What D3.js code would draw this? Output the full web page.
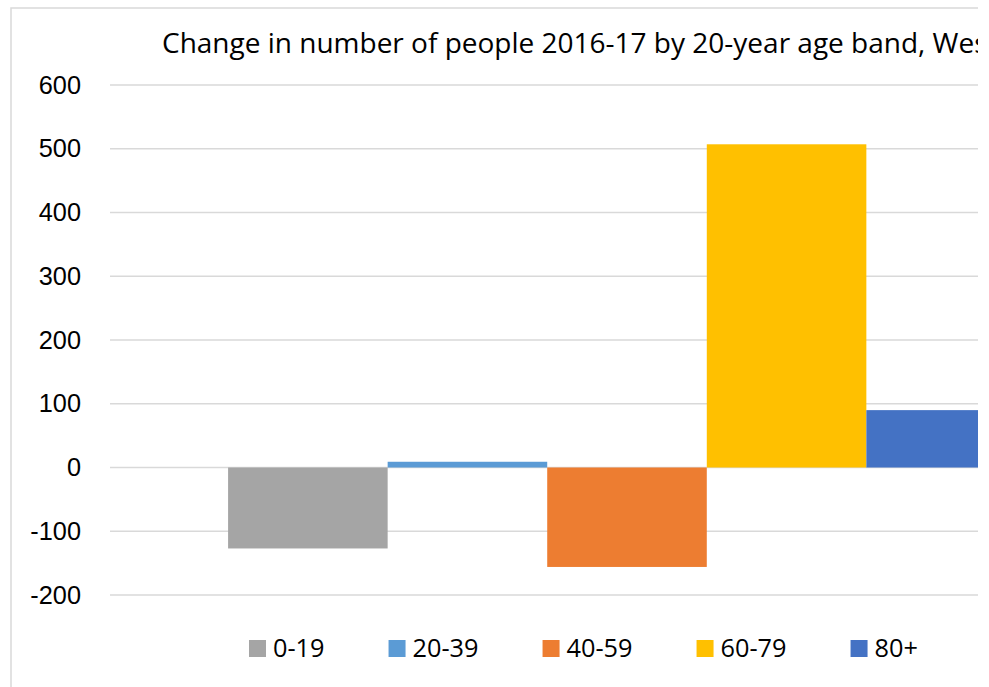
<!DOCTYPE html>
<html>
<head>
<meta charset="utf-8">
<script src="https://cdn.jsdelivr.net/npm/d3@7"></script>
<style>
  body { margin: 0; background: #fff; }
  svg { display: block; font-family: "Open Sans", sans-serif; }
</style>
</head>
<body>
<div id="chart"></div>
<script>
// data
const title = "Change in number of people 2016-17 by 20-year age band, West";
const categories = [""];
const series = ["0-19", "20-39", "40-59", "60-79", "80+"];
const values = [-127, 9, -156, 507, 90];
const colors = ["#a5a5a5", "#5b9bd5", "#ed7d31", "#ffc000", "#4472c4"];
const yTicks = [-200, -100, 0, 100, 200, 300, 400, 500, 600];

const w = 989, h = 687;
const clipRight = 978;
const labelSize = 25.3;
const margin = {top: 85, right: -155, bottom: 92, left: 110};
const width = w - margin.left - margin.right;
const height = h - margin.top - margin.bottom;

const svg = d3.select("#chart").append("svg")
  .attr("width", w)
  .attr("height", h);

svg.append("clipPath").attr("id", "crop")
  .append("rect").attr("x", 0).attr("y", 0).attr("width", clipRight).attr("height", h);

const root = svg.append("g").attr("clip-path", "url(#crop)");

// chart frame (only left and top edges are in view)
root.append("path")
  .attr("d", `M11,${h} V8 H${w}`)
  .attr("fill", "none")
  .attr("stroke", "#d9d9d9")
  .attr("stroke-width", 1.5);

root.append("text")
  .attr("x", 162)
  .attr("y", 53)
  .attr("font-size", 28)
  .attr("fill", "#000")
  .text(title);

const chart = root.append("g")
  .attr("transform", "translate(" + margin.left + "," + margin.top + ")");

const x0 = d3.scaleBand().domain(categories).range([0, width]).padding(0);
const x1 = d3.scaleBand().domain(series).range([0, x0.bandwidth()]).paddingInner(0).paddingOuter(0.74);
const y = d3.scaleLinear().domain([-200, 600]).range([height, 0]);

// gridlines
chart.append("g")
  .selectAll("line")
  .data(yTicks)
  .join("line")
  .attr("x1", 0)
  .attr("x2", width)
  .attr("y1", d => y(d))
  .attr("y2", d => y(d))
  .attr("stroke", "#d9d9d9")
  .attr("stroke-width", 1.5);

// y labels
const yAxis = chart.append("g")
  .attr("transform", "translate(-29,0)")
  .call(d3.axisLeft(y).tickValues(yTicks).tickSize(0).tickPadding(0).tickFormat(d => String(d)));
yAxis.select(".domain").remove();
yAxis.selectAll("text")
  .attr("font-size", labelSize)
  .attr("font-family", null)
  .attr("fill", "#000");

// bars
categories.forEach(cat => {
  chart.append("g")
    .attr("transform", "translate(" + x0(cat) + ",0)")
    .selectAll("rect")
    .data(series.map((s, i) => ({s, v: values[i], c: colors[i]})))
    .join("rect")
    .attr("x", d => x1(d.s))
    .attr("width", x1.bandwidth())
    .attr("y", d => y(Math.max(0, d.v)))
    .attr("height", d => Math.abs(y(d.v) - y(0)))
    .attr("fill", d => d.c);
});

// legend
const legend = root.append("g").attr("transform", "translate(249,640)");
let lx = 0;
series.forEach((s, i) => {
  const item = legend.append("g").attr("transform", "translate(" + lx + ",0)");
  item.append("rect").attr("width", 17).attr("height", 17).attr("fill", colors[i]);
  const t = item.append("text")
    .attr("x", 24)
    .attr("y", 8.5)
    .attr("dy", "0.35em")
    .attr("font-size", labelSize)
    .attr("fill", "#000")
    .text(s);
  lx += 24 + t.node().getComputedTextLength() + 64;
});
</script>
</body>
</html>
